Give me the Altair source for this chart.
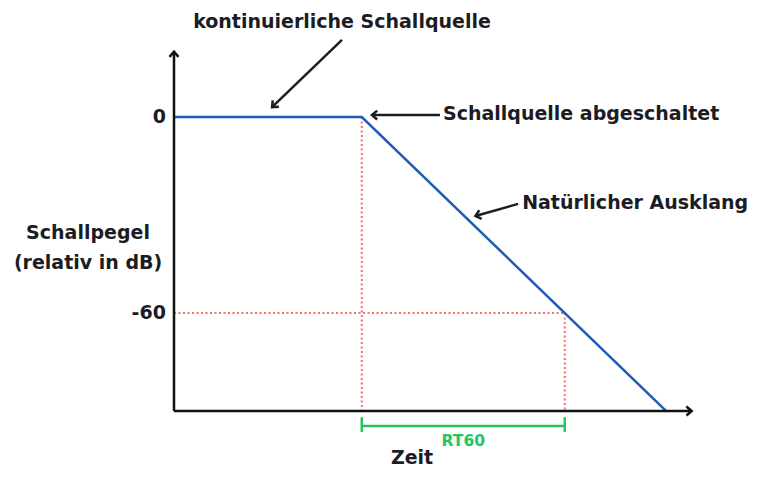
import math
import altair as alt
import pandas as pd

# ---- data (time in arbitrary units, level in dB) ----
t_off = 1.85          # source switched off
rt60 = 2.0            # reverberation time
t60 = t_off + rt60    # time where level reaches -60 dB
t_end = 4.85          # decay line reaches the time axis
db_bottom = -90       # level at the time axis
db_top = 20           # top of the level axis
t_axis_end = 5.1

curve_t = [0, t_off, t_end]
curve_db = [0, 0, db_bottom]

# guide lines (red dotted)
guide_t = [t_off, 0, t60]
guide_t2 = [t_off, t60, t60]
guide_db = [0, -60, -60]
guide_db2 = [db_bottom, -60, db_bottom]

# RT60 bracket
bracket_db = -94.6
bracket_tick_db = [-91.9, -96.4]

# annotation arrows: start -> tip
arrow_t = [1.655, 2.62, 3.39]
arrow_db = [23.6, 0.6, -26.6]
arrow_tip_t = [0.966, 1.95, 2.97]
arrow_tip_db = [3.0, 0.6, -30.3]

# tick labels
tick_labels = ["0", "-60"]
tick_db = [0, -60]

# texts
left_labels = ["Schallquelle abgeschaltet", "Natürlicher Ausklang"]
left_t = [2.65, 3.43]
left_db = [0.9, -26.3]

center_labels = ["kontinuierliche Schallquelle", "Schallpegel", "(relativ in dB)", "Zeit"]
center_t = [1.655, -0.847, -0.847, 2.345]
center_db = [29.1, -35.5, -44.7, -104.3]

rt_label = ["RT60"]
rt_t = [(t_off + t60) / 2]
rt_db = [-99.2]

# ---- layout helpers ----
W, H = 746, 462
PX_T = 101.5     # pixels per time unit
PX_DB = 3.267    # pixels per dB
x_min = -166 / PX_T
x_dom = [x_min, x_min + W / PX_T]
y_max = 109 / PX_DB
y_dom = [y_max - H / PX_DB, y_max]

xs = alt.Scale(domain=x_dom, nice=False, zero=False)
ys = alt.Scale(domain=y_dom, nice=False, zero=False)
X = lambda f: alt.X(f, type="quantitative", scale=xs, axis=None)
Y = lambda f: alt.Y(f, type="quantitative", scale=ys, axis=None)


def ang(t0, d0, t1, d1):
    return math.degrees(math.atan2(-(d1 - d0) * PX_DB, (t1 - t0) * PX_T)) % 360


FONT = "DejaVu Sans"
DARK = "#1c1c24"
CHEVRON = "M-1,-0.85L0,0L-1,0.85"

curve_df = pd.DataFrame({"t": curve_t, "db": curve_db})
guide_df = pd.DataFrame({"t": guide_t, "t2": guide_t2, "db": guide_db, "db2": guide_db2})
axes_df = pd.DataFrame({"t": [0, 0], "t2": [0, t_axis_end], "db": [db_bottom, db_bottom], "db2": [db_top, db_bottom]})
axis_heads = pd.DataFrame({"t": [0, t_axis_end], "db": [db_top, db_bottom], "a": [270, 0]})
bracket_df = pd.DataFrame({"t": [t_off, t_off, t60], "t2": [t60, t_off, t60],
                           "db": [bracket_db, bracket_tick_db[0], bracket_tick_db[0]],
                           "db2": [bracket_db, bracket_tick_db[1], bracket_tick_db[1]]})
arrow_df = pd.DataFrame({"t": arrow_t, "db": arrow_db, "t2": arrow_tip_t, "db2": arrow_tip_db})
arrow_head_df = pd.DataFrame({"t": arrow_tip_t, "db": arrow_tip_db,
                              "a": [ang(a, b, c, d) for a, b, c, d in zip(arrow_t, arrow_db, arrow_tip_t, arrow_tip_db)]})
tick_df = pd.DataFrame({"label": tick_labels, "t": [-0.08] * 2, "db": tick_db})
left_df = pd.DataFrame({"label": left_labels, "t": left_t, "db": left_db})
center_df = pd.DataFrame({"label": center_labels, "t": center_t, "db": center_db})
rt_df = pd.DataFrame({"label": rt_label, "t": rt_t, "db": rt_db})

guides = alt.Chart(guide_df).mark_rule(color="#ff6b6b", strokeWidth=2, strokeDash=[2, 2.5]).encode(
    x=X("t"), x2="t2", y=Y("db"), y2="db2")
curve = alt.Chart(curve_df).mark_line(color="#1f5cba", strokeWidth=2.5).encode(x=X("t"), y=Y("db"))
axes = alt.Chart(axes_df).mark_rule(color="#111111", strokeWidth=2.5).encode(
    x=X("t"), x2="t2", y=Y("db"), y2="db2")
axes_h = alt.Chart(axis_heads).mark_point(shape=CHEVRON, size=110, filled=False, color="#111111",
                                          strokeWidth=2.5, opacity=1).encode(
    x=X("t"), y=Y("db"), angle=alt.Angle("a:Q", scale=None))
bracket = alt.Chart(bracket_df).mark_rule(color="#22c55e", strokeWidth=2.5).encode(
    x=X("t"), x2="t2", y=Y("db"), y2="db2")
arrows = alt.Chart(arrow_df).mark_rule(color=DARK, strokeWidth=2.5).encode(
    x=X("t"), x2="t2", y=Y("db"), y2="db2")
arrow_heads = alt.Chart(arrow_head_df).mark_point(shape=CHEVRON, size=110, filled=False, color=DARK,
                                                  strokeWidth=2.5, opacity=1).encode(
    x=X("t"), y=Y("db"), angle=alt.Angle("a:Q", scale=None))

txt = dict(font=FONT, fontSize=19, fontWeight="bold", color=DARK, baseline="middle")
ticks = alt.Chart(tick_df).mark_text(align="right", **txt).encode(x=X("t"), y=Y("db"), text="label:N")
left_t_ = alt.Chart(left_df).mark_text(align="left", **txt).encode(x=X("t"), y=Y("db"), text="label:N")
center_t_ = alt.Chart(center_df).mark_text(align="center", **txt).encode(x=X("t"), y=Y("db"), text="label:N")
rt = alt.Chart(rt_df).mark_text(align="center", baseline="middle", font=FONT, fontSize=15.5, fontWeight="bold",
                                color="#22c55e").encode(x=X("t"), y=Y("db"), text="label:N")

chart = alt.layer(guides, curve, axes, axes_h, bracket, arrows, arrow_heads,
                  ticks, left_t_, center_t_, rt).properties(
    width=W, height=H, padding=0, autosize=alt.AutoSizeParams(type="none"),
    background="white"
).configure_view(stroke=None)

chart.save("out.html", embed_options={"renderer": "svg", "actions": False})
